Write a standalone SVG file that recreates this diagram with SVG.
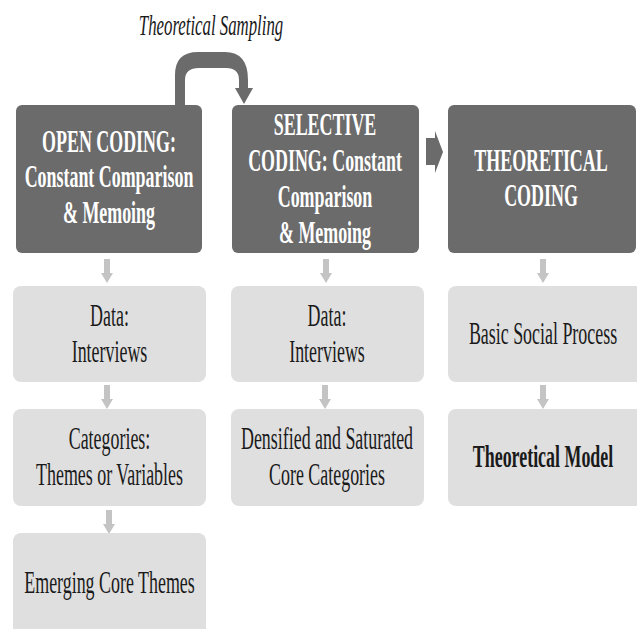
<svg xmlns="http://www.w3.org/2000/svg" xmlns:xlink="http://www.w3.org/1999/xlink" width="637" height="629" viewBox="0 0 637 629">
<style>
.dark{fill:#6b6b6b}
.light{fill:#dfdfdf}
.dt{font-family:"Liberation Serif","Times New Roman",serif;font-size:32px;font-weight:bold;fill:#ffffff;text-anchor:middle}
.lt{font-family:"Liberation Serif","Times New Roman",serif;font-size:32px;fill:#1a1a1a;text-anchor:middle}
.ltb{font-weight:bold}
.title{font-family:"Liberation Serif","Times New Roman",serif;font-size:30px;font-style:italic;fill:#1a1a1a;text-anchor:middle}
.sa{fill:#c4c4c4}
.ba{fill:#6b6b6b}
</style>
<defs>
<path id="darr" d="M -3 0 L 3 0 L 3 14 L 6 14 L 0 24 L -6 14 L -3 14 Z"/>
</defs>
<rect width="637" height="629" fill="#ffffff"/>
<text class="title" transform="translate(211 35) scale(0.56 1)">Theoretical Sampling</text>
<g id="connectors">
<path class="ba" d="M 175 106 L 175 75 Q 175 52 198 52 L 225 52 Q 248 52 248 80 L 248 88 L 253 88 L 244 104 L 235 88 L 239 88 L 239 80 Q 239 68 226 68 L 199 68 Q 185 68 185 80 L 185 106 Z"/>
<path class="ba" d="M 426 138 L 435 138 L 435 131 L 443 152 L 435 173 L 435 165 L 426 165 Z"/>
<use href="#darr" class="sa" x="107" y="259"/>
<use href="#darr" class="sa" x="326" y="259"/>
<use href="#darr" class="sa" x="543" y="259"/>
<use href="#darr" class="sa" x="107" y="385"/>
<use href="#darr" class="sa" x="325" y="385"/>
<use href="#darr" class="sa" x="543" y="385"/>
<use href="#darr" class="sa" x="109" y="510"/>
</g>
<g id="open-coding">
<rect class="dark" x="16" y="105" width="186" height="148" rx="6"/>
<text class="dt" transform="translate(109 152) scale(0.56 1)"><tspan x="0" y="0">OPEN CODING:</tspan><tspan x="0" y="35.5">Constant Comparison</tspan><tspan x="0" y="71">&amp; Memoing</tspan></text>
</g>
<g id="selective-coding">
<rect class="dark" x="232" y="105" width="187" height="148" rx="6"/>
<text class="dt" transform="translate(325 135) scale(0.56 1)"><tspan x="0" y="0">SELECTIVE</tspan><tspan x="0" y="36">CODING: Constant</tspan><tspan x="0" y="72">Comparison</tspan><tspan x="0" y="108">&amp; Memoing</tspan></text>
</g>
<g id="theoretical-coding">
<rect class="dark" x="448" y="105" width="188" height="148" rx="6"/>
<text class="dt" transform="translate(541 171) scale(0.56 1)"><tspan x="0" y="0">THEORETICAL</tspan><tspan x="0" y="35">CODING</tspan></text>
</g>
<g id="data-1">
<rect class="light" x="13" y="286" width="193" height="96" rx="8"/>
<text class="lt" transform="translate(109.5 326) scale(0.56 1)"><tspan x="0" y="0">Data:</tspan><tspan x="0" y="36">Interviews</tspan></text>
</g>
<g id="categories">
<rect class="light" x="13" y="409" width="193" height="97" rx="8"/>
<text class="lt" transform="translate(109.5 449) scale(0.56 1)"><tspan x="0" y="0">Categories:</tspan><tspan x="0" y="36">Themes or Variables</tspan></text>
</g>
<g id="emerging">
<rect class="light" x="13" y="533" width="193" height="104" rx="8"/>
<text class="lt" transform="translate(109.5 593) scale(0.56 1)">Emerging Core Themes</text>
</g>
<g id="data-2">
<rect class="light" x="231" y="286" width="193" height="96" rx="8"/>
<text class="lt" transform="translate(327 326) scale(0.56 1)"><tspan x="0" y="0">Data:</tspan><tspan x="0" y="36">Interviews</tspan></text>
</g>
<g id="densified">
<rect class="light" x="231" y="409" width="193" height="97" rx="8"/>
<text class="lt" transform="translate(327 449) scale(0.56 1)"><tspan x="0" y="0">Densified and Saturated</tspan><tspan x="0" y="36">Core Categories</tspan></text>
</g>
<g id="basic-social-process">
<rect class="light" x="448" y="286" width="196" height="96" rx="8"/>
<text class="lt" transform="translate(543 344) scale(0.56 1)">Basic Social Process</text>
</g>
<g id="theoretical-model">
<rect class="light" x="448" y="409" width="196" height="97" rx="8"/>
<text class="lt ltb" transform="translate(543 467) scale(0.56 1)">Theoretical Model</text>
</g>
</svg>
